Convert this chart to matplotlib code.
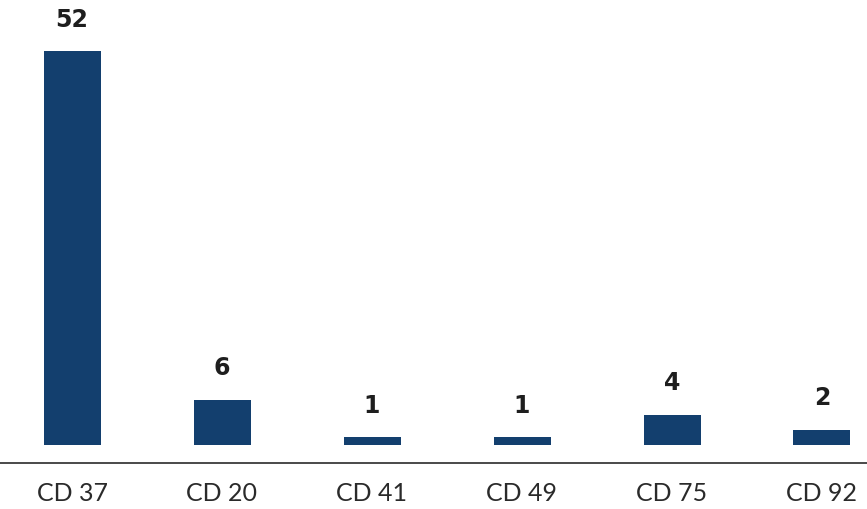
import matplotlib.pyplot as plt

# Data
categories = ['CD 37', 'CD 20', 'CD 41', 'CD 49', 'CD 75', 'CD 92']
values = [52, 6, 1, 1, 4, 2]

BAR_COLOR = '#133f6e'

fig = plt.figure(figsize=(8.67, 5.09), dpi=100)
ax = fig.add_axes([0, 0, 1, 1])

x = list(range(len(categories)))
bars = ax.bar(x, values, width=0.38, color=BAR_COLOR)

# value labels above bars
for xi, v in zip(x, values):
    ax.annotate(str(v), (xi, v), xytext=(0, 14), textcoords='offset points',
                ha='center', va='bottom', fontsize=17, fontweight='bold',
                family='DejaVu Sans', color='#1e1e1e')

ax.set_xlim(-0.48, 5.3)
ax.set_ylim(-8.447, 58.73)

for side in ['top', 'right', 'left']:
    ax.spines[side].set_visible(False)
ax.spines['bottom'].set_position(('data', -2.376))
ax.spines['bottom'].set_color('#3a3a3a')
ax.spines['bottom'].set_linewidth(1.3)

ax.set_yticks([])
ax.set_xticks(x)
ax.set_xticklabels(categories, fontsize=18, family='Lato', color='#2a2a2a')
ax.tick_params(axis='x', length=0, pad=14)

fig.savefig('out.png', dpi=100)
